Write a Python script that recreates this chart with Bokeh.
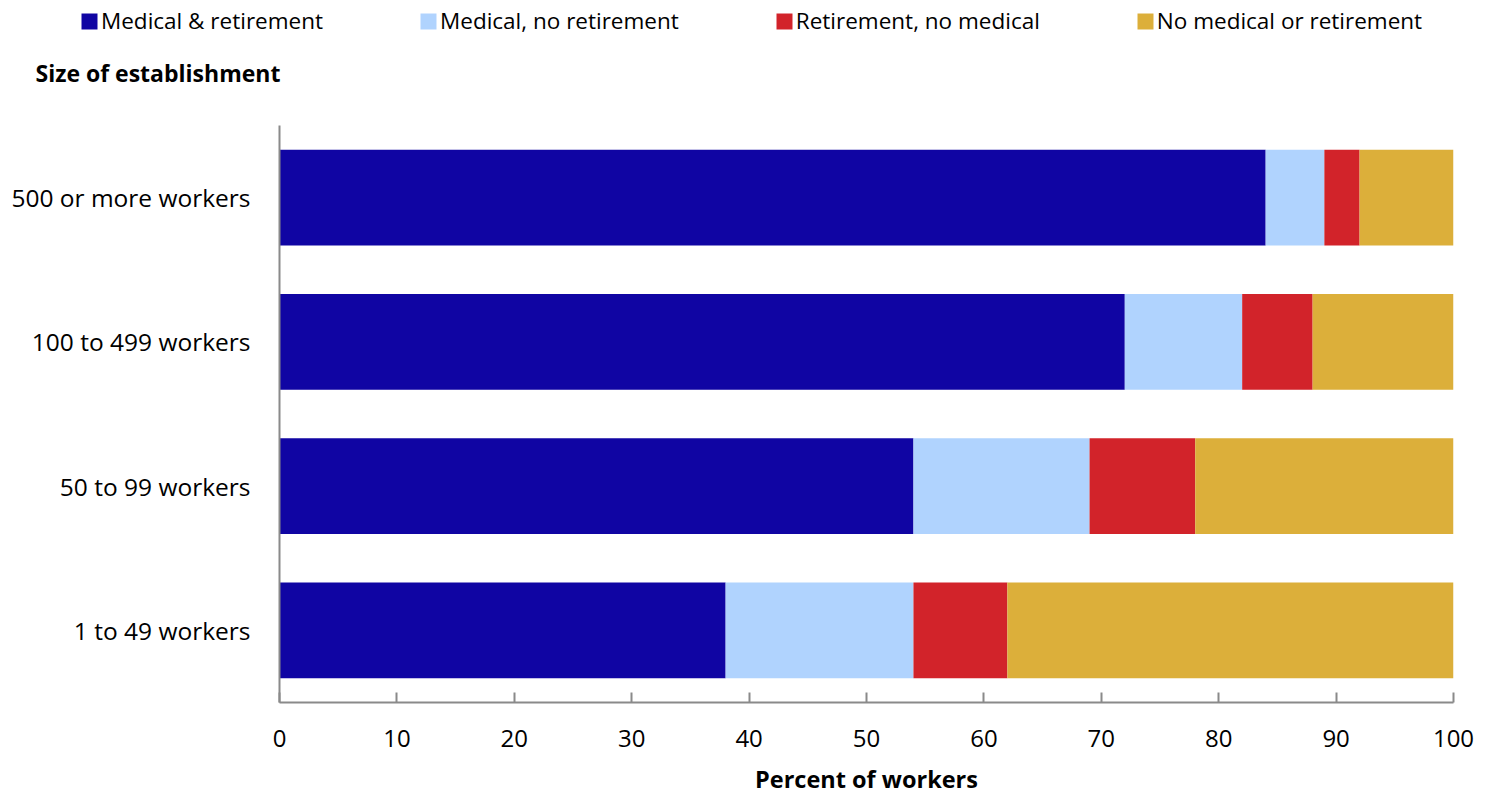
from bokeh.plotting import figure
from bokeh.layouts import column
from bokeh.models import ColumnDataSource, FactorRange, Range1d, Legend, LegendItem, Label, FixedTicker
from bokeh.embed import file_html
from bokeh.resources import INLINE

sizes = ["1 to 49 workers", "50 to 99 workers", "100 to 499 workers", "500 or more workers"]
med_ret = [38, 54, 72, 84]
med_no_ret = [16, 15, 10, 5]
ret_no_med = [8, 9, 6, 3]
neither = [38, 22, 12, 8]

series = ["med_ret", "med_no_ret", "ret_no_med", "neither"]
labels = ["Medical & retirement", "Medical, no retirement", "Retirement, no medical", "No medical or retirement"]
colors = ["#1005A3", "#B0D3FE", "#D2232A", "#DCAF3A"]
x_ticks = [0, 10, 20, 30, 40, 50, 60, 70, 80, 90, 100]
y_title = "Size of establishment"
x_title = "Percent of workers"

FONT = "Open Sans"
GRAY = "#8a8a8a"
TOP_H = 100

src = ColumnDataSource(dict(size=sizes, med_ret=med_ret, med_no_ret=med_no_ret,
                            ret_no_med=ret_no_med, neither=neither))

# ---- header strip: legend + y-axis title ----
lg = figure(width=1491, height=TOP_H, output_backend="svg", toolbar_location=None,
            x_range=Range1d(0, 1), y_range=Range1d(0, 1),
            x_axis_location=None, y_axis_location=None,
            min_border=0, min_border_left=0, min_border_right=0, min_border_top=0, min_border_bottom=0)
lg.frame_align = False
lg.xgrid.visible = False
lg.ygrid.visible = False
lg.outline_line_color = None
# zero-width proxies (outside the visible range) that only carry the legend colours
dummy = [lg.hbar(y=[-5], left=[0], right=[0], height=0.1, fill_color=c, line_color=None) for c in colors]
items = [LegendItem(label=lab, renderers=[r]) for lab, r in zip(labels, dummy)]
legend = Legend(items=items, orientation="horizontal", location=(79, 64),
                glyph_width=20, glyph_height=20, label_standoff=2, spacing=95,
                padding=0, margin=0, border_line_color=None, background_fill_alpha=0,
                label_text_font=FONT, label_text_font_size="22.5px", label_text_color="#000000",
                label_height=20)
lg.add_layout(legend, "center")
lg.add_layout(Label(x=35, y=TOP_H - 72, x_units="screen", y_units="screen", text=y_title,
                    text_font=FONT, text_font_size="23px", text_font_style="bold",
                    text_color="#000000", text_align="left", text_baseline="middle"))

# ---- main chart ----
p = figure(width=1491, height=797 - TOP_H, output_backend="svg", toolbar_location=None,
           y_range=FactorRange(factors=sizes, range_padding=0),
           x_range=Range1d(0, 100),
           min_border_left=279, min_border_right=38, min_border_top=125 - TOP_H, min_border_bottom=94)
p.frame_align = False

rs = p.hbar_stack(series, y="size", height=0.665, color=colors, line_color=None, source=src)

p.xgrid.visible = False
p.ygrid.visible = False
p.outline_line_color = None

xa = p.xaxis[0]
xa.ticker = FixedTicker(ticks=x_ticks)
xa.axis_line_color = GRAY
xa.axis_line_width = 2
xa.major_tick_line_color = GRAY
xa.major_tick_line_width = 2
xa.major_tick_in = 10
xa.major_tick_out = 0
xa.minor_tick_line_color = None
xa.major_label_text_font = FONT
xa.major_label_text_font_size = "24px"
xa.major_label_text_color = "#000000"
xa.major_label_standoff = 27
xa.axis_label = x_title
xa.axis_label_text_font = FONT
xa.axis_label_text_font_size = "23.5px"
xa.axis_label_text_font_style = "bold"
xa.axis_label_text_color = "#000000"
xa.axis_label_standoff = 13

ya = p.yaxis[0]
ya.axis_line_color = GRAY
ya.axis_line_width = 2
ya.major_tick_line_color = None
ya.minor_tick_line_color = None
ya.major_label_text_font = FONT
ya.major_label_text_font_size = "24.5px"
ya.major_label_text_color = "#000000"
ya.major_label_standoff = 23

open("out.html", "w").write(file_html(column(lg, p, spacing=0), INLINE))
